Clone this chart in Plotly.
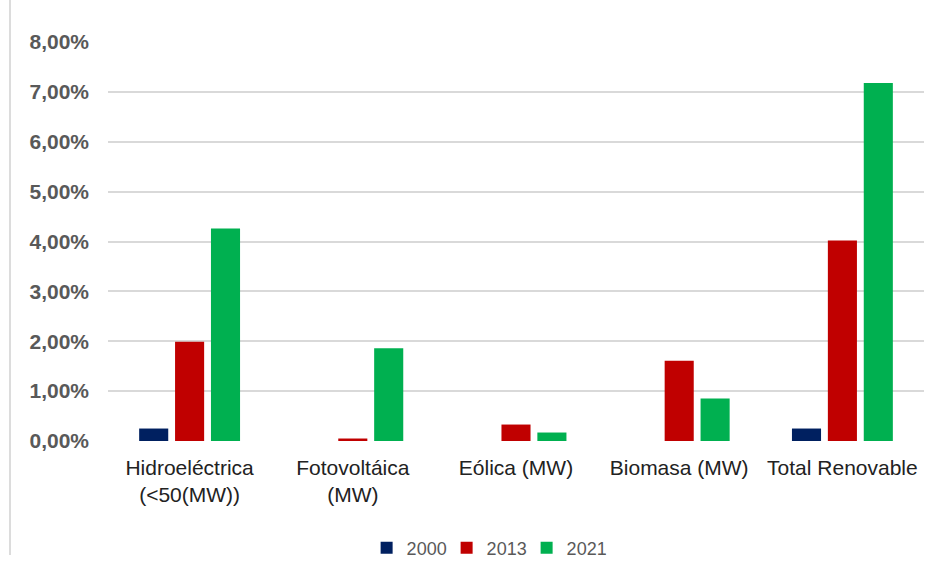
import plotly.graph_objects as go

# Share of installed capacity by renewable source (%)
categories = [
    "Hidroeléctrica<br>(<50(MW))",
    "Fotovoltáica<br>(MW)",
    "Eólica (MW)",
    "Biomasa (MW)",
    "Total Renovable",
]
years = ["2000", "2013", "2021"]
values_2000 = [0.25, 0.0, 0.0, 0.0, 0.25]
values_2013 = [1.99, 0.05, 0.33, 1.61, 4.02]
values_2021 = [4.26, 1.86, 0.17, 0.85, 7.18]
colors = ["#002060", "#C00000", "#00B050"]
y_ticks = [0, 1, 2, 3, 4, 5, 6, 7, 8]
y_ticklabels = [f"{v:.2f}%".replace(".", ",") for v in y_ticks]

series = [values_2000, values_2013, values_2021]

fig = go.Figure()
for name, vals, col in zip(years, series, colors):
    fig.add_trace(go.Bar(
        x=categories,
        y=vals,
        name=name,
        marker=dict(color=col, line=dict(width=0)),
    ))

fig.update_layout(
    width=934,
    height=562,
    margin=dict(l=108, r=10, t=42, b=121, autoexpand=False),
    paper_bgcolor="white",
    plot_bgcolor="white",
    barmode="group",
    bargap=0.34,
    bargroupgap=0.19,
    font=dict(family="Liberation Sans, Arial, sans-serif", color="#222222"),
    showlegend=True,
    legend=dict(
        orientation="h",
        x=0.464,
        xanchor="center",
        yref="container",
        y=0.025,
        yanchor="middle",
        itemwidth=30,
        entrywidth=35,
        font=dict(size=18, color="#595959"),
        bgcolor="rgba(0,0,0,0)",
    ),
)

fig.update_yaxes(
    range=[0, 8],
    tickvals=y_ticks,
    ticktext=y_ticklabels,
    showgrid=True,
    gridcolor="#d9d9d9",
    gridwidth=1.5,
    zeroline=False,
    showline=False,
    ticks="",
    ticklabelstandoff=18,
    tickfont=dict(size=21, color="#595959", family="Liberation Sans, Arial, sans-serif", weight="bold"),
)

fig.update_xaxes(
    showgrid=False,
    showline=False,
    ticks="",
    ticklabelstandoff=12,
    tickfont=dict(size=21, color="#222222"),
)

# Thin frame line on the left edge of the chart area
fig.add_shape(
    type="line",
    xref="paper", yref="paper",
    x0=-0.1201, x1=-0.1201, y0=1.2, y1=-0.2857,
    line=dict(color="#dcdcdc", width=2),
)

fig.write_html("out.html")
